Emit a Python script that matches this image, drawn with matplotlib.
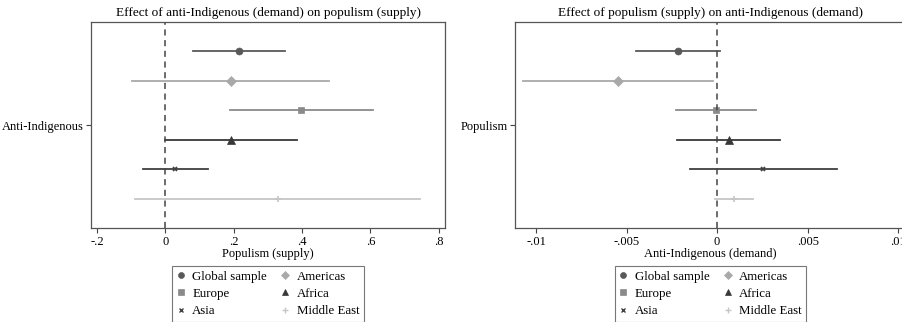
import matplotlib
matplotlib.use("Agg")
import matplotlib.pyplot as plt
from matplotlib.lines import Line2D

plt.rcParams['font.family'] = ['Liberation Serif', 'DejaVu Serif']
plt.rcParams['font.size'] = 9

regions = ['Global sample', 'Americas', 'Europe', 'Africa', 'Asia', 'Middle East']
markers = ['o', 'D', 's', '^', 'x', '+']
msizes = [5, 5, 5, 5.5, 3, 5]
colors = ['#595959', '#a9a9a9', '#8a8a8a', '#383838', '#404040', '#c6c6c6']

# effect of anti-Indigenous (demand) on populism (supply)
left_est = [0.215, 0.192, 0.398, 0.191, 0.029, 0.329]
left_lo = [0.080, -0.098, 0.189, -0.001, -0.066, -0.088]
left_hi = [0.350, 0.480, 0.607, 0.385, 0.124, 0.746]

# effect of populism (supply) on anti-Indigenous (demand)
right_est = [-0.00216, -0.00548, -0.00006, 0.00064, 0.00255, 0.00094]
right_lo = [-0.00449, -0.01074, -0.00225, -0.00221, -0.00152, -0.00009]
right_hi = [0.00015, -0.00024, 0.00216, 0.00347, 0.00664, 0.00197]

row_pos = [2.5, 1.5, 0.5, -0.5, -1.5, -2.5]


def coef_panel(ax, est, lo, hi, title, ylabel, xlabel, xticks, xticklabels, xlim):
    for i in range(len(regions)):
        ax.plot([lo[i], hi[i]], [row_pos[i], row_pos[i]], color=colors[i], lw=1.3)
        ax.plot(est[i], row_pos[i], marker=markers[i], ms=msizes[i], color=colors[i],
                mew=1.2 if markers[i] in ('x', '+') else 0.5, linestyle='none')
    ax.axvline(0, color='#444444', lw=1.1, ls=(0, (4, 3)))
    ax.set_ylim(-3.5, 3.5)
    ax.set_xlim(*xlim)
    ax.set_yticks([0])
    ax.set_yticklabels([ylabel])
    ax.set_xticks(xticks)
    ax.set_xticklabels(xticklabels)
    ax.set_xlabel(xlabel, labelpad=0)
    ax.set_title(title, fontsize=9.5, pad=4)
    ax.tick_params(direction='out', length=3.5, width=0.8, color='#444444', pad=2)
    for s in ax.spines.values():
        s.set_color('#555555')
        s.set_linewidth(0.9)
    handles = [Line2D([], [], marker=markers[i], ms=msizes[i] * 0.85, color=colors[i],
                      linestyle='none', mew=1.0 if markers[i] in ('x', '+') else 0.5)
               for i in range(len(regions))]
    order = [0, 2, 4, 1, 3, 5]
    leg = ax.legend([handles[k] for k in order], [regions[k] for k in order],
                    ncol=2, loc='upper center', bbox_to_anchor=(0.5, -0.185),
                    fancybox=False, frameon=True, edgecolor='#555555',
                    handlelength=0.6, handletextpad=0.6, columnspacing=1.1,
                    labelspacing=0.4, borderpad=0.35, borderaxespad=0,
                    fontsize=9.3)
    leg.get_frame().set_linewidth(0.8)


fig = plt.figure(figsize=(9.03, 3.22), dpi=100)
ax1 = fig.add_axes([0.1008, 0.2919, 0.3920, 0.6398])
ax2 = fig.add_axes([0.5703, 0.2919, 0.4330, 0.6398])

coef_panel(ax1, left_est, left_lo, left_hi,
           'Effect of anti-Indigenous (demand) on populism (supply)',
           'Anti-Indigenous', 'Populism (supply)',
           [-0.2, 0, 0.2, 0.4, 0.6, 0.8], ['-.2', '0', '.2', '.4', '.6', '.8'],
           (-0.2176, 0.818))
coef_panel(ax2, right_est, right_lo, right_hi,
           'Effect of populism (supply) on anti-Indigenous (demand)',
           'Populism', 'Anti-Indigenous (demand)',
           [-0.01, -0.005, 0, 0.005, 0.01], ['-.01', '-.005', '0', '.005', '.01'],
           (-0.01116, 0.01043))

fig.savefig('out.png', dpi=100)
